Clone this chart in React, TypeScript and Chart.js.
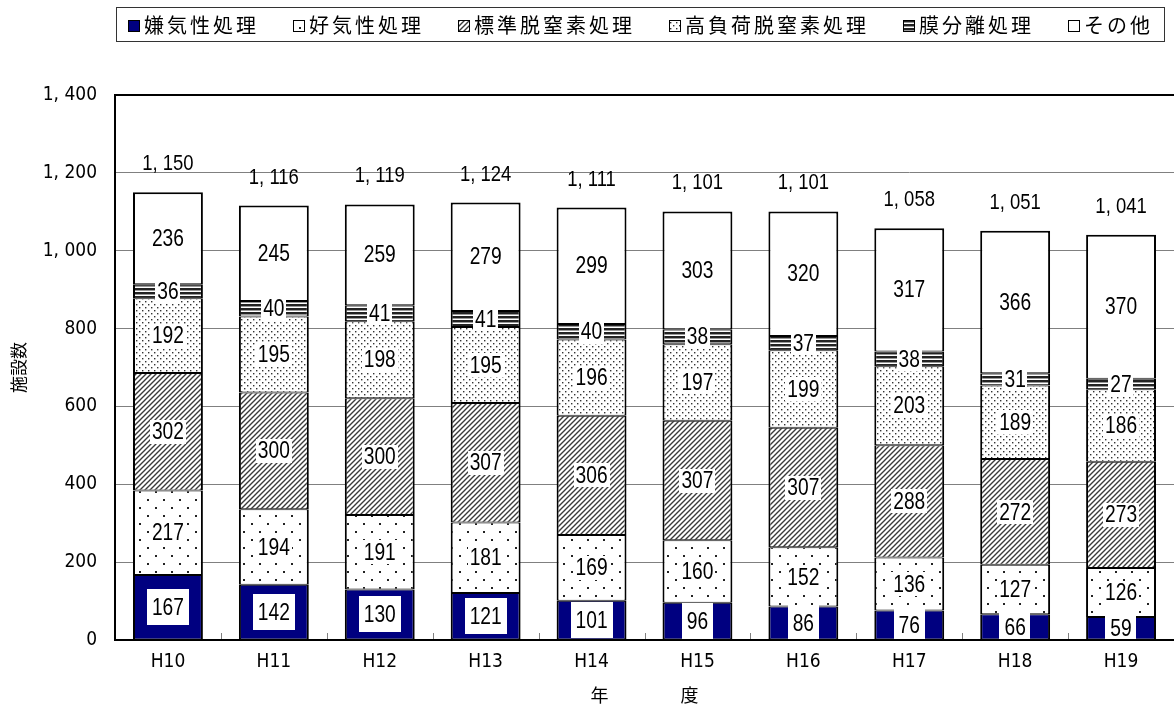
import React, { useEffect, useRef } from 'react';
import { Chart, registerables } from 'chart.js';

Chart.register(...registerables);

// ---- data ----
const categories = ['H10', 'H11', 'H12', 'H13', 'H14', 'H15', 'H16', 'H17', 'H18', 'H19'];
const seriesNames = ['嫌気性処理', '好気性処理', '標準脱窒素処理', '高負荷脱窒素処理', '膜分離処理', 'その他'];
const anaerobic = [167, 142, 130, 121, 101, 96, 86, 76, 66, 59];
const aerobic = [217, 194, 191, 181, 169, 160, 152, 136, 127, 126];
const standardDenitrification = [302, 300, 300, 307, 306, 307, 307, 288, 272, 273];
const highLoadDenitrification = [192, 195, 198, 195, 196, 197, 199, 203, 189, 186];
const membraneSeparation = [36, 40, 41, 41, 40, 38, 37, 38, 31, 27];
const others = [236, 245, 259, 279, 299, 303, 320, 317, 366, 370];
const totals = [1150, 1116, 1119, 1124, 1111, 1101, 1101, 1058, 1051, 1041];
const yMin = 0;
const yMax = 1400;
const yStep = 200;
const yAxisTitle = '施設数';
const xAxisTitle = '年　　　　度';

const JP = "'Noto Sans CJK JP', 'Noto Sans', sans-serif";
const LAB = "'Liberation Sans', Arial, sans-serif";
const NUM2 = "'DejaVu Sans Condensed', 'DejaVu Sans', sans-serif";

const fmt = (v: number) => {
  const s = String(v);
  if (s.length > 3) return s.slice(0, s.length - 3) + ', ' + s.slice(s.length - 3);
  return s;
};

function tile(w: number, h: number, draw: (g: CanvasRenderingContext2D) => void) {
  const c = document.createElement('canvas');
  c.width = w;
  c.height = h;
  const g = c.getContext('2d')!;
  g.fillStyle = '#ffffff';
  g.fillRect(0, 0, w, h);
  draw(g);
  return g.createPattern(c, 'repeat')!;
}

function makeFills(): any[] {
  const navy = '#000080';
  const sparseDots = tile(16, 16, (g) => {
    g.fillStyle = '#222';
    g.fillRect(3, 3, 2, 2);
    g.fillRect(11, 11, 2, 2);
  });
  const hatch = tile(5, 5, (g) => {
    g.strokeStyle = '#3a3a3a';
    g.lineWidth = 1.4;
    g.beginPath();
    g.moveTo(-1, 6);
    g.lineTo(6, -1);
    g.moveTo(-6, 6);
    g.lineTo(1, -1);
    g.moveTo(4, 6);
    g.lineTo(11, -1);
    g.stroke();
  });
  const denseDots = tile(6, 6, (g) => {
    g.fillStyle = '#333';
    g.fillRect(1, 1, 1.4, 1.4);
    g.fillRect(4, 4, 1.4, 1.4);
  });
  const stripes = tile(4, 4, (g) => {
    g.fillStyle = '#222';
    g.fillRect(0, 0, 4, 2);
    g.fillStyle = '#999';
    g.fillRect(0, 2, 4, 1);
  });
  return [navy, sparseDots, hatch, denseDots, stripes, '#ffffff'];
}

function narrowText(ctx: CanvasRenderingContext2D, text: string, x: number, y: number, sx: number) {
  ctx.save();
  ctx.translate(x, y);
  ctx.scale(sx, 1);
  ctx.fillText(text, 0, 0);
  ctx.restore();
}

function makeDecorPlugin(fills: any[]) {
  return {
    id: 'decor',
    afterDraw(chart: any) {
      const { ctx, chartArea: a } = chart;
      ctx.save();

      // top border of plot area
      ctx.strokeStyle = '#000';
      ctx.lineWidth = 2;
      ctx.beginPath();
      ctx.moveTo(a.left, a.top);
      ctx.lineTo(a.right, a.top);
      ctx.stroke();

      // inner x ticks between categories
      const xs = chart.scales.x;
      ctx.strokeStyle = '#808080';
      ctx.lineWidth = 1;
      ctx.beginPath();
      for (let i = 1; i < categories.length; i++) {
        const x = Math.round((xs.getPixelForValue(i - 1) + xs.getPixelForValue(i)) / 2) + 0.5;
        ctx.moveTo(x, a.bottom - 1);
        ctx.lineTo(x, a.bottom - 7);
      }
      ctx.stroke();

      // segment labels
      const sx = 0.8;
      ctx.textAlign = 'center';
      ctx.textBaseline = 'middle';
      ctx.font = `24px ${LAB}`;
      chart.data.datasets.forEach((ds: any, d: number) => {
        const meta = chart.getDatasetMeta(d);
        meta.data.forEach((el: any, j: number) => {
          const { x, y, base } = el.getProps(['x', 'y', 'base'], true);
          const cy = (y + base) / 2;
          const text = String(ds.data[j]);
          const tw = ctx.measureText(text).width * sx;
          const padX = d === 0 ? 5 : 2;
          const bh = d === 0 ? 36 : 24;
          ctx.fillStyle = '#fff';
          const bx = Math.round(x - tw / 2 - padX);
          const by = Math.round(cy - bh / 2);
          const bottomClip = Math.min(by + bh, a.bottom - 1);
          ctx.fillRect(bx, by, Math.round(tw + padX * 2), bottomClip - by);
          ctx.fillStyle = '#000';
          narrowText(ctx, text, x, cy + 1, sx);
        });
      });

      // totals
      ctx.font = `22px ${LAB}`;
      const ys = chart.scales.y;
      const meta0 = chart.getDatasetMeta(0);
      totals.forEach((t, j) => {
        const x = meta0.data[j].x;
        const yTop = ys.getPixelForValue(t);
        ctx.fillStyle = '#000';
        narrowText(ctx, fmt(t), x, yTop - 28, 0.84);
      });

      // legend
      const box = { l: 116, t: 7, r: 1164, b: 41 };
      ctx.strokeStyle = '#333';
      ctx.lineWidth = 1;
      ctx.strokeRect(box.l + 0.5, box.t + 0.5, box.r - box.l, box.b - box.t);
      ctx.font = `20px ${JP}`;
      (ctx as any).letterSpacing = '3px';
      const marker = 11;
      const gapM = 5;
      const widths = seriesNames.map((n) => marker + gapM + ctx.measureText(n).width - 3);
      const contentL = 128;
      const contentR = 1150;
      const sum = widths.reduce((s, w) => s + w, 0);
      const gap = (contentR - contentL - sum) / (seriesNames.length - 1);
      let lx = contentL;
      const cyL = (box.t + box.b) / 2 + 1;
      ctx.textAlign = 'left';
      seriesNames.forEach((n, i) => {
        const mx = Math.round(lx) + 0.5;
        const my = Math.round(cyL - marker / 2) + 0.5;
        ctx.fillStyle = fills[i];
        ctx.fillRect(mx, my, marker, marker);
        ctx.strokeStyle = '#000';
        ctx.lineWidth = 1;
        ctx.strokeRect(mx, my, marker, marker);
        ctx.fillStyle = '#000';
        ctx.fillText(n, lx + marker + gapM, cyL);
        lx += widths[i] + gap;
      });
      (ctx as any).letterSpacing = '0px';
      ctx.restore();
    },
  };
}

export default function App() {
  const ref = useRef<HTMLCanvasElement>(null);
  useEffect(() => {
    document.body.style.margin = '0';
    const canvas = ref.current!;
    const fills = makeFills();
    const seriesValues = [anaerobic, aerobic, standardDenitrification, highLoadDenitrification, membraneSeparation, others];
    const datasets = seriesNames.map((name, i) => ({
      label: name,
      data: seriesValues[i],
      backgroundColor: fills[i],
      borderColor: '#000',
      borderWidth: i === seriesNames.length - 1
        ? { top: 2, bottom: 1, left: 2, right: 2 }
        : { top: 1, bottom: 1, left: 2, right: 2 },
      borderSkipped: false,
      categoryPercentage: 1,
      barPercentage: 0.66,
    }));
    const chart: any = new Chart(canvas, {
      type: 'bar',
      data: { labels: categories, datasets },
      options: {
        responsive: false,
        animation: false,
        devicePixelRatio: 1,
        layout: { padding: { top: 95, left: 0, right: 0, bottom: 0 } },
        plugins: { legend: { display: false }, tooltip: { enabled: false } },
        scales: {
          x: {
            stacked: true,
            grid: { display: false, drawTicks: false },
            border: { display: true, color: '#000', width: 2 },
            ticks: { color: '#000', font: { family: NUM2, size: 19 }, padding: 11 },
            title: {
              display: true,
              text: xAxisTitle,
              color: '#000',
              font: { family: JP, size: 18 },
              padding: { top: 0, bottom: 10 },
            },
            afterFit: (s: any) => { s.height = 76; },
          },
          y: {
            stacked: true,
            min: yMin,
            max: yMax,
            grid: {
              color: (c: any) => (c.tick && c.tick.value === yMax ? '#000' : '#808080'),
              drawTicks: false,
            },
            border: { display: true, color: '#000', width: 2 },
            ticks: {
              stepSize: yStep,
              color: '#000',
              font: { family: NUM2, size: 19 },
              padding: 18,
              callback: (v: any) => fmt(Number(v)),
            },
            title: {
              display: true,
              text: yAxisTitle,
              color: '#000',
              font: { family: JP, size: 17 },
              padding: { top: 8, bottom: 0 },
            },
            afterFit: (s: any) => { s.width = 115; },
          },
        },
      },
      plugins: [makeDecorPlugin(fills)],
    } as any);
    return () => chart.destroy();
  }, []);
  return (
    <div style={{ width: 1174, height: 716 }}>
      <canvas ref={ref} width={1174} height={716} />
    </div>
  );
}
